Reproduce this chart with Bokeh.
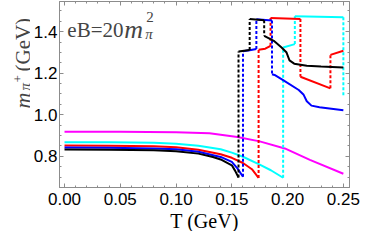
import math
from bokeh.plotting import figure
from bokeh.layouts import row
from bokeh.models import (Range1d, LinearAxis, SingleIntervalTicker, Title,
                          NumeralTickFormatter, CustomJSTickFormatter, Label)
from bokeh.embed import file_html
from bokeh.resources import INLINE

# ---------------- data ----------------
# Each series: list of solid branches; consecutive branches are joined
# by a dotted vertical jump at the end temperature of the earlier branch.
black_low_T = [0.0, 0.04, 0.08, 0.10, 0.12, 0.133, 0.14, 0.15, 0.153, 0.156]
black_low_m = [0.833, 0.832, 0.829, 0.825, 0.813, 0.797, 0.785, 0.757, 0.730, 0.698]
black_mid_T = [0.156, 0.161, 0.166]
black_mid_m = [1.304, 1.308, 1.312]
black_top_T = [0.166, 0.179]
black_top_m = [1.461, 1.455]
black_high_T = [0.179, 0.1876, 0.1946, 0.1989, 0.2017, 0.2059, 0.2172, 0.230, 0.25]
black_high_m = [1.380, 1.356, 1.324, 1.301, 1.262, 1.246, 1.236, 1.232, 1.228]

blue_low_T = [0.0, 0.04, 0.08, 0.10, 0.12, 0.14, 0.15, 0.155, 0.160]
blue_low_m = [0.842, 0.841, 0.838, 0.834, 0.822, 0.797, 0.773, 0.742, 0.702]
blue_mid_T = [0.160, 0.166, 0.172]
blue_mid_m = [1.306, 1.310, 1.316]
blue_top_T = [0.172, 0.186]
blue_top_m = [1.460, 1.453]
blue_high_T = [0.186, 0.189, 0.196, 0.210, 0.2144, 0.2172, 0.2214, 0.2286, 0.25]
blue_high_m = [1.195, 1.190, 1.167, 1.119, 1.096, 1.065, 1.044, 1.036, 1.022]

red_low_T = [0.0, 0.04, 0.08, 0.10, 0.12, 0.14, 0.15, 0.16, 0.168, 0.174]
red_low_m = [0.852, 0.851, 0.848, 0.844, 0.832, 0.810, 0.793, 0.768, 0.738, 0.696]
red_mid_T = [0.174, 0.180, 0.1847]
red_mid_m = [1.313, 1.318, 1.332]
red_top_T = [0.1847, 0.2115]
red_top_m = [1.466, 1.461]
red_high1_T = [0.2115, 0.2384]
red_high1_m = [1.183, 1.127]
red_high2_T = [0.2384, 0.25]
red_high2_m = [1.288, 1.308]

cyan_low_T = [0.0, 0.04, 0.08, 0.10, 0.12, 0.14, 0.15, 0.16, 0.175, 0.185, 0.196]
cyan_low_m = [0.868, 0.868, 0.865, 0.861, 0.851, 0.834, 0.818, 0.798, 0.760, 0.733, 0.697]
cyan_mid_T = [0.196, 0.2065]
cyan_mid_m = [1.324, 1.340]
cyan_top_T = [0.2065, 0.25]
cyan_top_m = [1.474, 1.469]
cyan_drop_to = 1.088

magenta_T = [0.0, 0.05, 0.10, 0.13, 0.155, 0.175, 0.1975, 0.22, 0.25]
magenta_m = [0.918, 0.918, 0.916, 0.911, 0.893, 0.872, 0.838, 0.783, 0.716]

x_ticks_interval = 0.05
y_ticks_interval = 0.2

series = [
    ("magenta", [(magenta_T, magenta_m)], None),
    ("cyan", [(cyan_low_T, cyan_low_m), (cyan_mid_T, cyan_mid_m),
              (cyan_top_T, cyan_top_m)], cyan_drop_to),
    ("red", [(red_low_T, red_low_m), (red_mid_T, red_mid_m),
             (red_top_T, red_top_m), (red_high1_T, red_high1_m),
             (red_high2_T, red_high2_m)], None),
    ("blue", [(blue_low_T, blue_low_m), (blue_mid_T, blue_mid_m),
              (blue_top_T, blue_top_m), (blue_high_T, blue_high_m)], None),
    ("black", [(black_low_T, black_low_m), (black_mid_T, black_mid_m),
               (black_top_T, black_top_m), (black_high_T, black_high_m)], None),
]

SERIF = "Liberation Serif"
FRAME = "#8c8c8c"
LEFT_W = 30
MAIN_W = 336
H = 231
Y_RANGE = (0.65, 1.545)

# ---------------- main figure ----------------
p = figure(width=MAIN_W, height=H, output_backend="svg", toolbar_location=None,
           x_range=Range1d(-0.0045, 0.2555), y_range=Range1d(*Y_RANGE),
           min_border_left=24, min_border_right=17, min_border_top=1,
           min_border_bottom=0, background_fill_color="white")
p.xgrid.visible = False
p.ygrid.visible = False
p.outline_line_color = FRAME

def style_axis(ax, labels=True, standoff=4):
    ax.axis_line_color = FRAME
    ax.major_tick_line_color = FRAME
    ax.minor_tick_line_color = FRAME
    ax.major_tick_in = 4
    ax.major_tick_out = 0
    ax.minor_tick_in = 2
    ax.minor_tick_out = 0
    if labels:
        ax.major_label_text_font = "Liberation Sans"
        ax.major_label_text_font_size = "17px"
        ax.major_label_text_color = "black"
        ax.major_label_standoff = standoff
    else:
        ax.formatter = CustomJSTickFormatter(code="return ''")
        ax.major_label_standoff = 0

p.xaxis.ticker = SingleIntervalTicker(interval=x_ticks_interval, num_minor_ticks=5)
p.yaxis.ticker = SingleIntervalTicker(interval=y_ticks_interval, num_minor_ticks=4)
p.xaxis.formatter = NumeralTickFormatter(format="0.00")
p.yaxis.formatter = NumeralTickFormatter(format="0.0")
style_axis(p.xaxis[0], standoff=5)
style_axis(p.yaxis[0], standoff=2)

top = LinearAxis(ticker=SingleIntervalTicker(interval=x_ticks_interval, num_minor_ticks=5))
right = LinearAxis(ticker=SingleIntervalTicker(interval=y_ticks_interval, num_minor_ticks=4))
style_axis(top, labels=False)
style_axis(right, labels=False)
p.add_layout(top, "above")
p.add_layout(right, "right")

# x-axis title as a Title placed below the axis
p.add_layout(Title(text="T (GeV)", align="center", text_font=SERIF,
                   text_font_size="20px", text_font_style="normal",
                   text_color="black", standoff=0), "below")

for color, branches, tail in series:
    for i, (T, m) in enumerate(branches):
        p.line(T, m, color=color, line_width=2)
        if i + 1 < len(branches):
            nT, nm = branches[i + 1]
            p.line([T[-1], T[-1]], [m[-1], nm[0]], color=color,
                   line_width=2, line_dash="3 2")
    if tail is not None:
        T, m = branches[-1]
        p.line([T[-1], T[-1]], [m[-1], tail], color=color,
               line_width=2, line_dash="3 2")

# eB = 20 m_pi^2 annotation
x0 = 0.0025
ytop = Y_RANGE[1]
p.add_layout(Label(x=x0, y=ytop, y_offset=-28, text="eB=20", text_font=SERIF,
                   text_font_size="21px", text_baseline="alphabetic"))
p.add_layout(Label(x=x0, y=ytop, x_offset=57, y_offset=-28, text="m",
                   text_font=SERIF, text_font_style="italic",
                   text_font_size="26px", text_baseline="alphabetic"))
p.add_layout(Label(x=x0, y=ytop, x_offset=79, y_offset=-15, text="2",
                   text_font=SERIF, text_font_size="15px",
                   text_baseline="alphabetic"))
p.add_layout(Label(x=x0, y=ytop, x_offset=78, y_offset=-32, text="π",
                   text_font=SERIF, text_font_style="italic",
                   text_font_size="15px", text_baseline="alphabetic"))

# ---------------- left strip: rotated y-axis title ----------------
left = figure(width=LEFT_W, height=H, output_backend="svg", toolbar_location=None,
              x_range=Range1d(0, LEFT_W), y_range=Range1d(*Y_RANGE),
              x_axis_type=None, y_axis_type=None,
              min_border_left=0, min_border_right=0, min_border_top=1,
              min_border_bottom=0, background_fill_color="white")
left.grid.visible = False
left.outline_line_color = None

rot = math.pi / 2
ax_x = 22
ax_y = 1.03
left.add_layout(Label(x=ax_x, y=ax_y, angle=rot, text="m", text_font=SERIF,
                      text_font_style="italic", text_font_size="22px",
                      text_baseline="alphabetic"))
left.add_layout(Label(x=ax_x, y=ax_y, x_offset=2, y_offset=18, angle=rot, text="π",
                      text_font=SERIF, text_font_style="italic",
                      text_font_size="15px", text_baseline="alphabetic"))
left.add_layout(Label(x=ax_x, y=ax_y, x_offset=-5, y_offset=26, angle=rot, text="+",
                      text_font=SERIF, text_font_size="13px",
                      text_baseline="alphabetic"))
left.add_layout(Label(x=ax_x, y=ax_y, y_offset=37, angle=rot, text="(GeV)",
                      text_font=SERIF, text_font_size="21px",
                      text_baseline="alphabetic"))

layout = row(left, p, spacing=0)
open("out.html", "w").write(file_html(layout, INLINE))
